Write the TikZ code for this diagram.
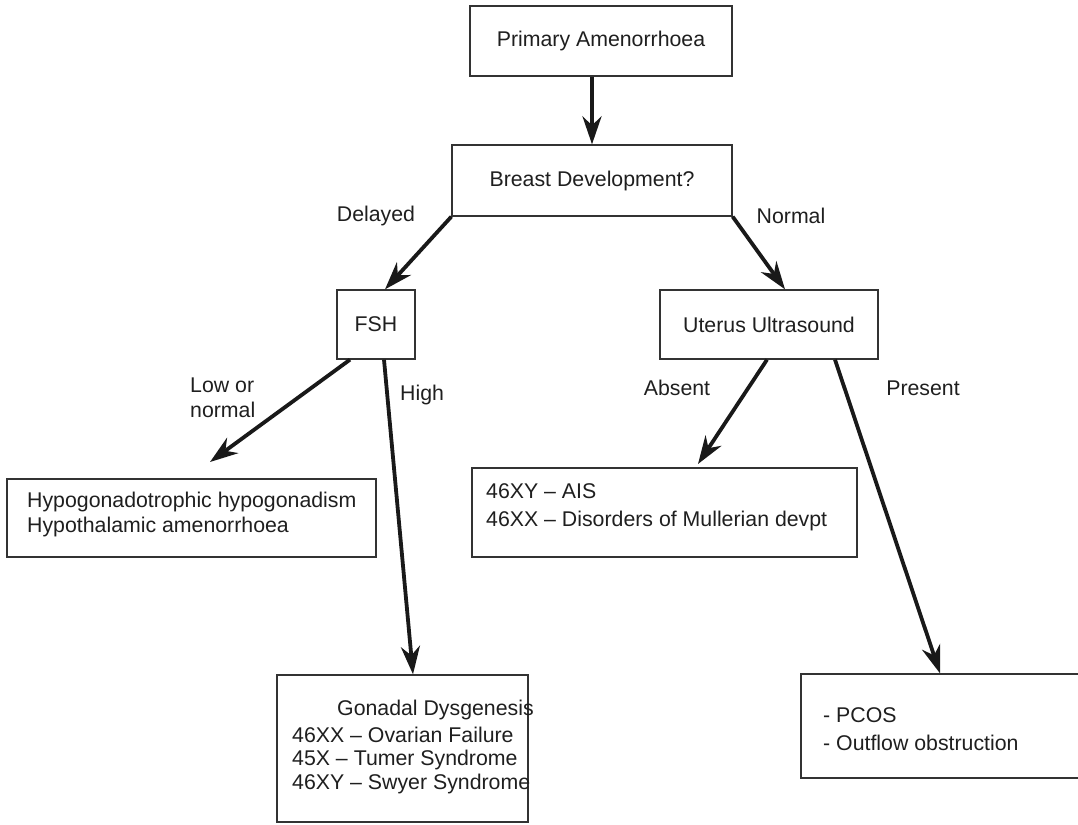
\documentclass[tikz,border=0pt]{standalone}
\usepackage{fontspec}
\setmainfont{Liberation Sans}
\usetikzlibrary{arrows.meta}
\begin{document}
\begin{tikzpicture}[x=1pt,y=-1pt,
  box/.style={draw=black!80,line width=1.3pt,inner sep=0pt,fill=white},
  txt/.style={inner sep=0pt,font=\fontsize{21.3}{25}\selectfont,text=black!88},
  arr/.style={line width=3.8pt,black!90,-{Stealth[length=28pt,width=19pt,inset=9pt]}}]
\useasboundingbox (0,0) rectangle (1078,824);
\clip (0,0) rectangle (1078,824);
% boxes
\node[box,minimum width=262pt,minimum height=70pt] (prim) at (601,41) {};
\node[box,minimum width=280pt,minimum height=71pt] (breast) at (592,180.5) {};
\node[box,minimum width=78pt,minimum height=69pt] (fsh) at (376,324.5) {};
\node[box,minimum width=218pt,minimum height=69pt] (uterus) at (769,324.5) {};
\node[box,minimum width=369pt,minimum height=78pt] (hypo) at (191.5,518) {};
\node[box,minimum width=385pt,minimum height=89pt] (ais) at (664.5,512.5) {};
\node[box,minimum width=251pt,minimum height=147pt] (gon) at (402.5,748.5) {};
\node[box,minimum width=299pt,minimum height=104pt] (pcos) at (950.5,726) {};
% box texts
\node[txt] (tprim) at (prim) {Primary Amenorrhoea};
\node[txt] (tbreast) at (breast) {Breast Development?};
\node[txt] (tfsh) at (fsh) {FSH};
\node[txt] (tuterus) at (uterus) {Uterus Ultrasound};
\node[txt,anchor=west] (th1) at (27,502) {Hypogonadotrophic hypogonadism};
\node[txt,anchor=west] (th2) at (27,527) {Hypothalamic amenorrhoea};
\node[txt,anchor=west] (ta1) at (486,491) {46XY – AIS};
\node[txt,anchor=west] (ta2) at (486,521) {46XX – Disorders of Mullerian devpt};
\node[txt,anchor=west] (tg0) at (337,710) {Gonadal Dysgenesis};
\node[txt,anchor=west] (tg1) at (292,735) {46XX – Ovarian Failure};
\node[txt,anchor=west] (tg2) at (292,760) {45X – Tumer Syndrome};
\node[txt,anchor=west] (tg3) at (292,784) {46XY – Swyer Syndrome};
\node[txt,anchor=west] (tp1) at (823,715) {- PCOS};
\node[txt,anchor=west] (tp2) at (823,743) {- Outflow obstruction};
% free ends
\coordinate (lowend) at (210,462);
\coordinate (absend) at (698,464);
% arrows
\draw[arr] (prim.south -| breast.north) -- (breast.north);
\draw[arr] (breast.south west) -- ([xshift=9pt]fsh.north);
\draw[arr] (breast.south east) -- ([xshift=16pt]uterus.north);
\draw[arr] ([xshift=-26pt]fsh.south) -- (lowend);
\draw[arr] ([xshift=8pt]fsh.south) -- ([xshift=10.5pt]gon.north);
\draw[arr] ([xshift=-2pt]uterus.south) -- (absend);
\draw[arr] ([xshift=66pt]uterus.south) -- ([xshift=-10.5pt]pcos.north);
% labels
\node[txt] (ldel) at (376,216) {Delayed};
\node[txt] (lnor) at (791,216) {Normal};
\node[txt,anchor=west] (llow1) at (190,385) {Low or};
\node[txt,anchor=west] (llow2) at (190,410) {normal};
\node[txt,anchor=west] (lhigh) at (400,395) {High};
\node[txt] (labs) at (677,388) {Absent};
\node[txt] (lpres) at (923,388) {Present};
\end{tikzpicture}
\end{document}
